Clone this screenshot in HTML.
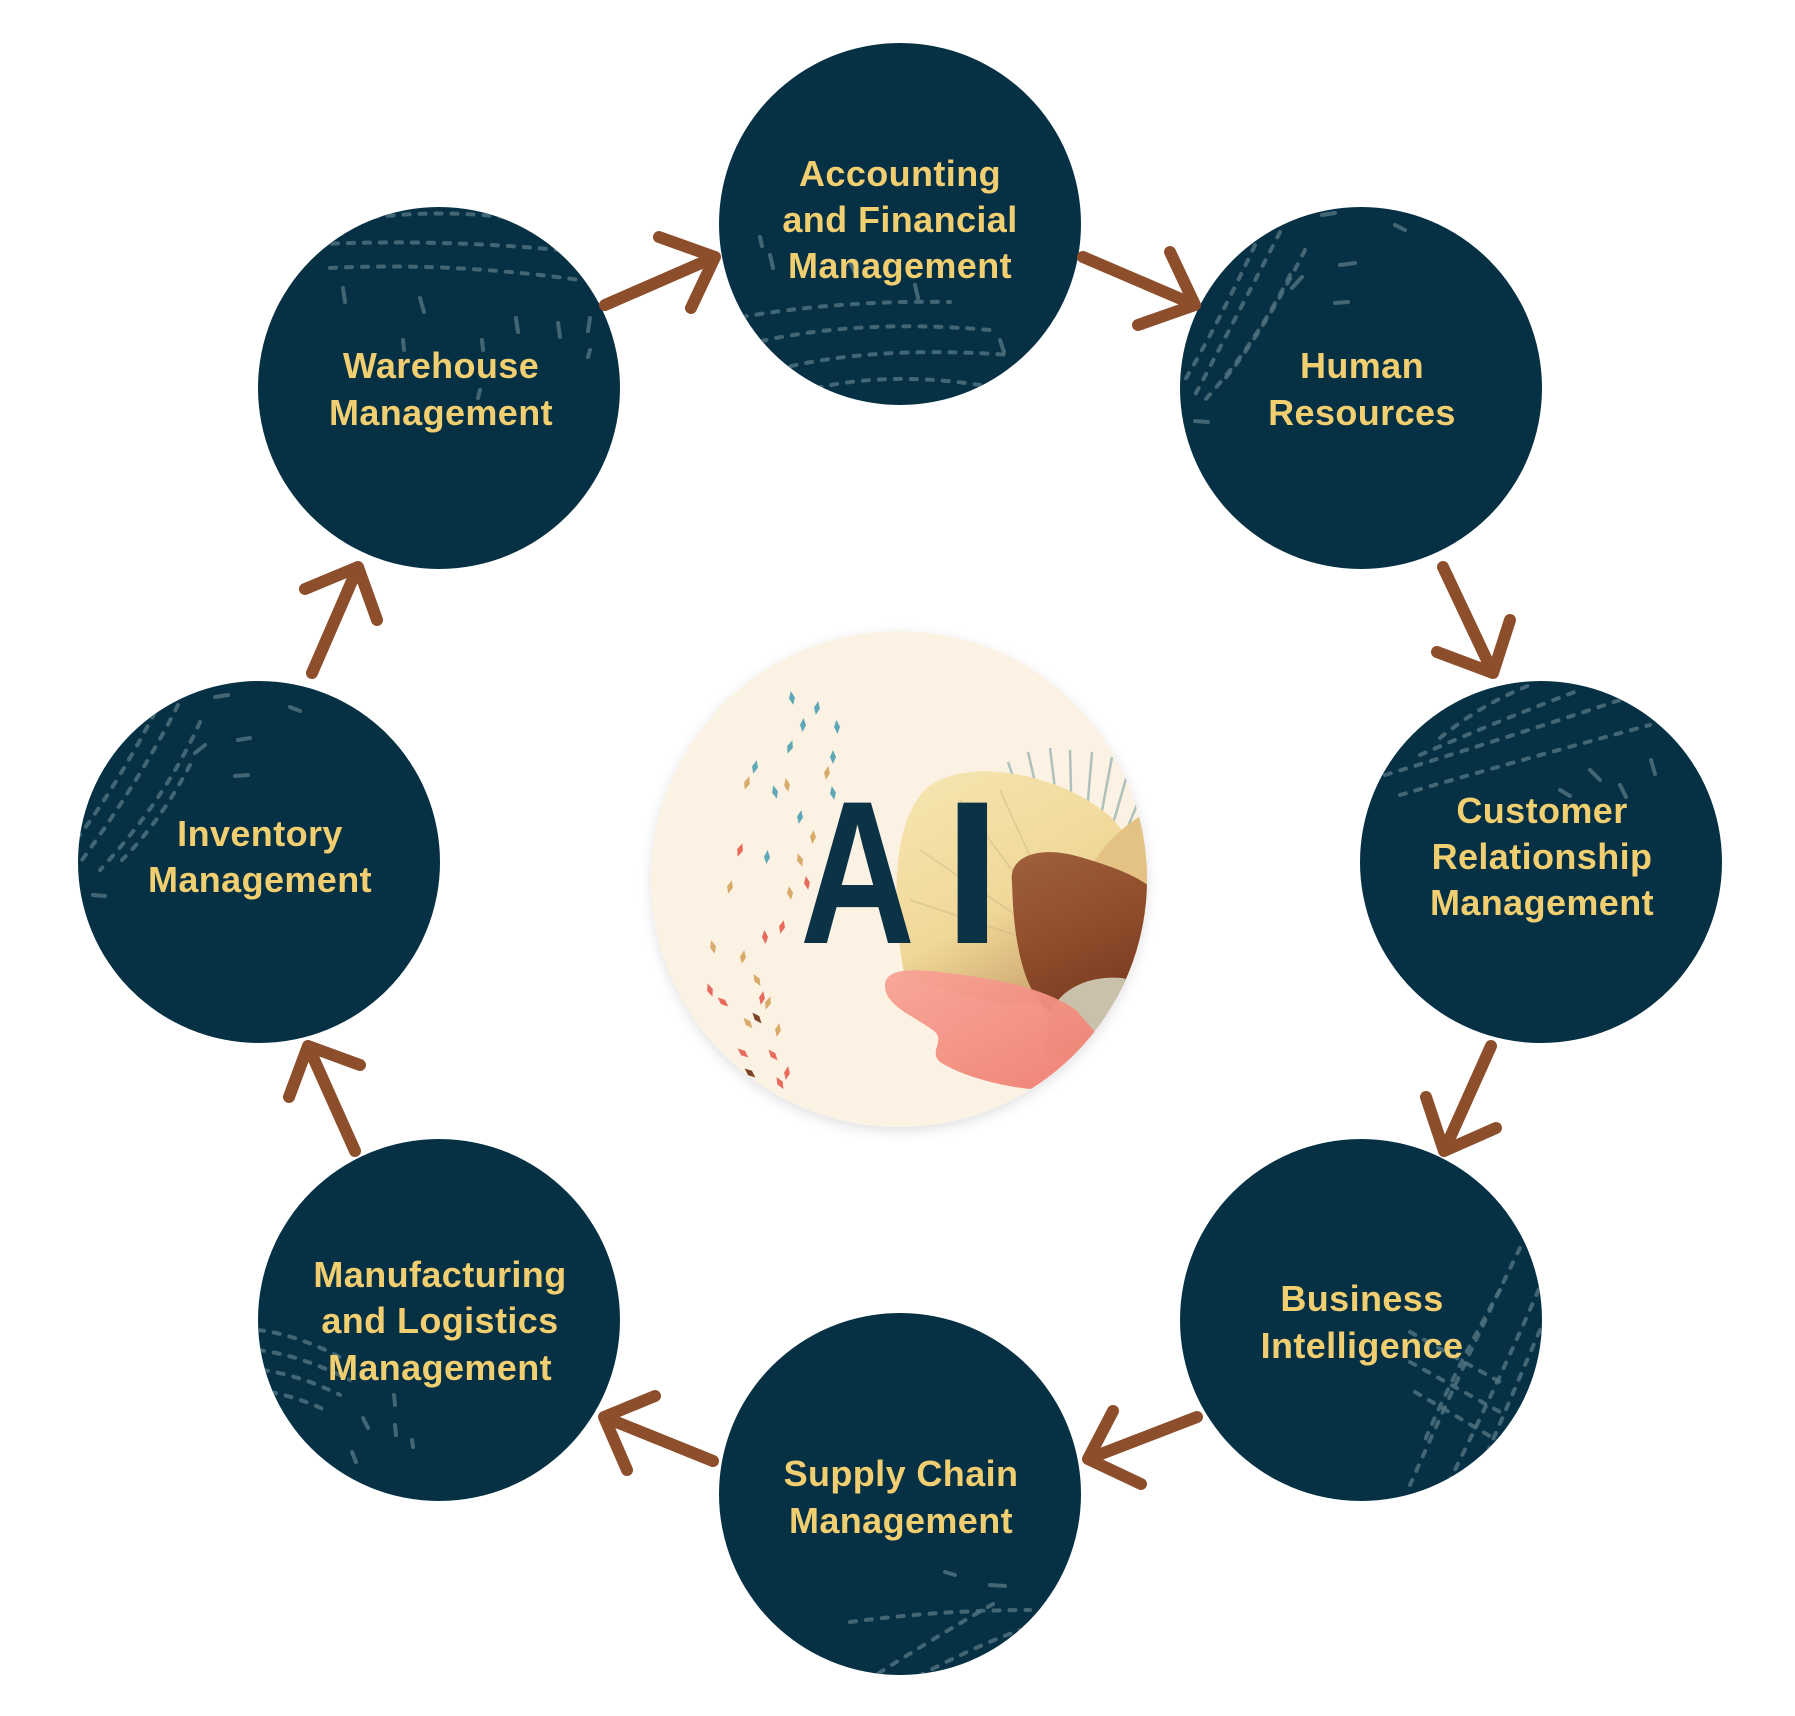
<!DOCTYPE html>
<html>
<head>
<meta charset="utf-8">
<style>
  html,body{margin:0;padding:0;background:#ffffff;}
  body{width:1795px;height:1716px;overflow:hidden;}
  svg{display:block;}
  .lbl{font-family:"Liberation Sans",Arial,sans-serif;font-weight:bold;font-size:36px;fill:#f1ce70;letter-spacing:0.4px;}
  .tx{fill:none;stroke:#4f707d;stroke-width:4;stroke-linecap:round;stroke-dasharray:6 10;opacity:0.85;}
  .sc{fill:none;stroke:#4f707d;stroke-width:4;stroke-linecap:round;opacity:0.85;}
  .arr{fill:none;stroke:#8d4e2b;stroke-width:12;stroke-linecap:round;stroke-linejoin:round;}
</style>
</head>
<body>
<svg width="1795" height="1716" viewBox="0 0 1795 1716" xmlns="http://www.w3.org/2000/svg">
  <defs>
    <clipPath id="cA"><circle cx="900" cy="224" r="181"/></clipPath>
    <clipPath id="cHR"><circle cx="1361" cy="388" r="181"/></clipPath>
    <clipPath id="cCRM"><circle cx="1541" cy="862" r="181"/></clipPath>
    <clipPath id="cBI"><circle cx="1361" cy="1320" r="181"/></clipPath>
    <clipPath id="cSC"><circle cx="900" cy="1494" r="181"/></clipPath>
    <clipPath id="cMF"><circle cx="439" cy="1320" r="181"/></clipPath>
    <clipPath id="cINV"><circle cx="259" cy="862" r="181"/></clipPath>
    <clipPath id="cWH"><circle cx="439" cy="388" r="181"/></clipPath>
    <clipPath id="cAI"><circle cx="899" cy="879" r="248"/></clipPath>
    <filter id="shadow" x="-20%" y="-20%" width="140%" height="140%">
      <feDropShadow dx="0" dy="4" stdDeviation="6" flood-color="#000" flood-opacity="0.12"/>
    </filter>
    <linearGradient id="gYellow" x1="0" y1="0" x2="0.6" y2="1">
      <stop offset="0" stop-color="#f6e6b2"/>
      <stop offset="0.6" stop-color="#f0d898"/>
      <stop offset="1" stop-color="#c9a06a"/>
    </linearGradient>
    <linearGradient id="gBrown" x1="0" y1="0" x2="0.4" y2="1">
      <stop offset="0" stop-color="#a0603c"/>
      <stop offset="0.6" stop-color="#8e4c2b"/>
      <stop offset="1" stop-color="#7a3b20"/>
    </linearGradient>
    <linearGradient id="gPink" x1="0" y1="0" x2="1" y2="1">
      <stop offset="0" stop-color="#f7a496"/>
      <stop offset="1" stop-color="#ef7d6f"/>
    </linearGradient>
    <path id="dm" d="M0,-7 L3,0 L0,7 L-3,0 Z"/>
  </defs>

  <!-- Center AI circle -->
  <g filter="url(#shadow)">
    <circle cx="899" cy="879" r="248" fill="#fbf2e4"/>
  </g>
  <g clip-path="url(#cAI)">
    <!-- rays -->
    <g stroke="#9fb8b6" stroke-width="2.5" opacity="0.85">
      <line x1="1075" y1="955" x2="1008" y2="762"/>
      <line x1="1075" y1="955" x2="1028" y2="752"/>
      <line x1="1075" y1="955" x2="1050" y2="748"/>
      <line x1="1075" y1="955" x2="1070" y2="750"/>
      <line x1="1075" y1="955" x2="1092" y2="752"/>
      <line x1="1075" y1="955" x2="1112" y2="757"/>
      <line x1="1075" y1="955" x2="1130" y2="765"/>
      <line x1="1075" y1="955" x2="1148" y2="778"/>
      <line x1="1075" y1="955" x2="1160" y2="795"/>
      <line x1="1075" y1="955" x2="985" y2="775"/>
      <line x1="1075" y1="955" x2="895" y2="940"/>
      <line x1="1075" y1="955" x2="905" y2="965"/>
    </g>
    <!-- yellow blob -->
    <path d="M 905 978 C 893 920, 888 822, 928 787 C 968 757, 1060 772, 1112 818 L 1155 870 L 1155 1000 L 1000 1005 Z" fill="url(#gYellow)"/>
    <g stroke="#c9b48a" stroke-width="1.5" opacity="0.5">
      <line x1="1075" y1="955" x2="960" y2="800"/>
      <line x1="1075" y1="955" x2="920" y2="850"/>
      <line x1="1075" y1="955" x2="910" y2="900"/>
      <line x1="1075" y1="955" x2="1000" y2="790"/>
    </g>
    <!-- gold on right -->
    <path d="M 1095 860 C 1115 830, 1140 815, 1160 805 L 1160 975 L 1100 960 Z" fill="#e4c284"/>
    <!-- brown blob -->
    <path d="M 1012 882 C 1008 856, 1040 845, 1080 857 C 1118 868, 1150 880, 1162 900 L 1162 965 C 1122 990, 1082 1000, 1056 1016 C 1030 1002, 1014 962, 1012 882 Z" fill="url(#gBrown)"/>
    <!-- gray stone -->
    <path d="M 1048 1018 C 1058 988, 1090 975, 1122 978 L 1160 988 L 1140 1065 L 1045 1055 Z" fill="#c9c1aa"/>
    <!-- pink blob -->
    <path d="M 885 987 C 884 970, 905 968, 940 972 C 990 978, 1042 986, 1076 1010 L 1102 1040 C 1082 1070, 1052 1086, 1030 1089 C 1000 1086, 962 1076, 940 1062 C 928 1051, 946 1041, 934 1031 C 914 1016, 886 1006, 885 987 Z" fill="url(#gPink)" opacity="0.95"/>
    <!-- confetti teal -->
    <g fill="#5ea7b7">
      <use href="#dm" transform="translate(792 698) rotate(-10)"/>
      <use href="#dm" transform="translate(817 708) rotate(10)"/>
      <use href="#dm" transform="translate(803 725) rotate(5)"/>
      <use href="#dm" transform="translate(837 727) rotate(-5)"/>
      <use href="#dm" transform="translate(790 747) rotate(20)"/>
      <use href="#dm" transform="translate(833 757) rotate(0)"/>
      <use href="#dm" transform="translate(755 767) rotate(15)"/>
      <use href="#dm" transform="translate(775 792) rotate(-15)"/>
      <use href="#dm" transform="translate(800 817) rotate(10)"/>
      <use href="#dm" transform="translate(767 857) rotate(5)"/>
      <use href="#dm" transform="translate(833 793) rotate(-10)"/>
    </g>
    <g fill="#d9aa6a">
      <use href="#dm" transform="translate(827 773) rotate(10)"/>
      <use href="#dm" transform="translate(787 785) rotate(-10)"/>
      <use href="#dm" transform="translate(747 783) rotate(20)"/>
      <use href="#dm" transform="translate(813 837) rotate(5)"/>
      <use href="#dm" transform="translate(800 860) rotate(-20)"/>
      <use href="#dm" transform="translate(730 887) rotate(15)"/>
      <use href="#dm" transform="translate(790 893) rotate(-10)"/>
      <use href="#dm" transform="translate(713 947) rotate(-15)"/>
      <use href="#dm" transform="translate(743 957) rotate(10)"/>
      <use href="#dm" transform="translate(757 980) rotate(-30)"/>
      <use href="#dm" transform="translate(768 1003) rotate(20)"/>
      <use href="#dm" transform="translate(748 1023) rotate(-40)"/>
      <use href="#dm" transform="translate(778 1030) rotate(10)"/>
    </g>
    <g fill="#e86a5c">
      <use href="#dm" transform="translate(740 850) rotate(20)"/>
      <use href="#dm" transform="translate(807 883) rotate(-10)"/>
      <use href="#dm" transform="translate(782 927) rotate(15)"/>
      <use href="#dm" transform="translate(765 937) rotate(-5)"/>
      <use href="#dm" transform="translate(710 990) rotate(-20)"/>
      <use href="#dm" transform="translate(723 1002) rotate(-50)"/>
      <use href="#dm" transform="translate(762 998) rotate(10)"/>
      <use href="#dm" transform="translate(743 1053) rotate(-50)"/>
      <use href="#dm" transform="translate(773 1055) rotate(-40)"/>
      <use href="#dm" transform="translate(787 1073) rotate(10)"/>
      <use href="#dm" transform="translate(780 1083) rotate(-30)"/>
    </g>
    <g fill="#7a4526">
      <use href="#dm" transform="translate(750 1073) rotate(-50)"/>
      <use href="#dm" transform="translate(757 1018) rotate(-40)"/>
    </g>
    <!-- AI text -->
    <text transform="translate(800 943) scale(0.78 1)" x="0" y="0" font-family="Liberation Sans, Arial, sans-serif" font-weight="bold" font-size="204" fill="#0b3345">A</text>
    <text x="944" y="943" font-family="Liberation Sans, Arial, sans-serif" font-weight="bold" font-size="204" fill="#0b3345">I</text>
  </g>

  <!-- Nodes -->
  <g fill="#063145">
    <circle cx="900" cy="224" r="181"/>
    <circle cx="1361" cy="388" r="181"/>
    <circle cx="1541" cy="862" r="181"/>
    <circle cx="1361" cy="1320" r="181"/>
    <circle cx="900" cy="1494" r="181"/>
    <circle cx="439" cy="1320" r="181"/>
    <circle cx="259" cy="862" r="181"/>
    <circle cx="439" cy="388" r="181"/>
  </g>

  <!-- Textures -->
  <g clip-path="url(#cA)">
    <path class="tx" d="M 725 320 Q 830 300 950 302"/>
    <path class="tx" d="M 745 345 Q 850 318 990 330"/>
    <path class="tx" d="M 775 370 Q 870 345 1010 355"/>
    <path class="tx" d="M 800 392 Q 880 370 980 385"/>
    <path class="sc" d="M 770 255 L 773 268 M 760 237 L 762 246 M 850 262 L 856 275 M 915 285 L 918 298 M 1000 340 L 1004 352"/>
  </g>
  <g clip-path="url(#cWH)">
    <path class="tx" d="M 340 222 Q 440 205 540 222"/>
    <path class="tx" d="M 300 245 Q 430 238 560 250"/>
    <path class="tx" d="M 330 268 Q 450 262 580 280"/>
    <path class="sc" d="M 343 288 L 345 302 M 420 298 L 424 312 M 516 318 L 518 332 M 558 323 L 560 337 M 403 340 L 404 350 M 482 340 L 483 350 M 590 318 L 588 331 M 590 350 L 588 357 M 480 390 L 478 398"/>
  </g>
  <g clip-path="url(#cHR)">
    <path class="tx" d="M 1280 232 Q 1240 310 1195 395"/>
    <path class="tx" d="M 1255 245 Q 1220 320 1185 380"/>
    <path class="tx" d="M 1305 250 Q 1265 330 1220 385"/>
    <path class="tx" d="M 1290 275 Q 1255 345 1205 400"/>
    <path class="sc" d="M 1322 215 L 1335 213 M 1395 225 L 1405 230 M 1340 265 L 1355 263 M 1335 303 L 1348 302 M 1292 288 L 1302 277 M 1195 421 L 1208 422"/>
  </g>
  <g clip-path="url(#cCRM)">
    <path class="tx" d="M 1385 775 Q 1500 740 1620 700"/>
    <path class="tx" d="M 1400 795 Q 1520 760 1650 725"/>
    <path class="tx" d="M 1420 755 Q 1500 720 1580 690"/>
    <path class="tx" d="M 1440 738 Q 1480 705 1530 685"/>
    <path class="sc" d="M 1651 760 L 1655 774 M 1620 785 L 1626 797 M 1590 770 L 1600 780 M 1560 790 L 1570 796"/>
  </g>
  <g clip-path="url(#cINV)">
    <path class="tx" d="M 178 705 Q 140 780 82 860"/>
    <path class="tx" d="M 155 712 Q 120 780 80 835"/>
    <path class="tx" d="M 200 722 Q 165 800 100 870"/>
    <path class="tx" d="M 190 765 Q 160 822 122 860"/>
    <path class="sc" d="M 215 697 L 228 695 M 290 707 L 300 711 M 238 740 L 250 738 M 235 776 L 248 775 M 93 895 L 105 896 M 195 753 L 205 745"/>
  </g>
  <g clip-path="url(#cBI)">
    <path class="tx" d="M 1520 1248 Q 1470 1350 1410 1485"/>
    <path class="tx" d="M 1545 1275 Q 1500 1380 1445 1490"/>
    <path class="tx" d="M 1500 1290 Q 1455 1370 1425 1440"/>
    <path class="tx" d="M 1540 1330 Q 1510 1400 1480 1470"/>
    <path class="tx" d="M 1410 1332 L 1500 1382"/>
    <path class="tx" d="M 1410 1362 L 1500 1412"/>
    <path class="tx" d="M 1415 1392 L 1500 1442"/>
  </g>
  <g clip-path="url(#cMF)">
    <path class="tx" d="M 258 1330 Q 300 1335 345 1360"/>
    <path class="tx" d="M 258 1350 Q 300 1355 350 1380"/>
    <path class="tx" d="M 262 1370 Q 300 1375 340 1395"/>
    <path class="tx" d="M 270 1392 Q 300 1398 325 1410"/>
    <path class="sc" d="M 394 1395 L 395 1405 M 363 1418 L 368 1428 M 395 1425 L 396 1435 M 412 1440 L 413 1447 M 352 1452 L 356 1462"/>
  </g>
  <g clip-path="url(#cSC)">
    <path class="tx" d="M 850 1622 Q 940 1610 1030 1610"/>
    <path class="tx" d="M 865 1682 Q 930 1640 1000 1600"/>
    <path class="tx" d="M 890 1692 Q 960 1652 1020 1630"/>
    <path class="tx" d="M 940 1684 Q 990 1654 1035 1642"/>
    <path class="sc" d="M 945 1572 L 955 1575 M 990 1585 L 1005 1586"/>
  </g>

  <!-- Labels -->
  <g class="lbl" text-anchor="middle">
    <text x="900" y="186">Accounting</text>
    <text x="900" y="232">and Financial</text>
    <text x="900" y="278">Management</text>

    <text x="1362" y="378">Human</text>
    <text x="1362" y="425">Resources</text>

    <text x="1542" y="823">Customer</text>
    <text x="1542" y="869">Relationship</text>
    <text x="1542" y="915">Management</text>

    <text x="1362" y="1311">Business</text>
    <text x="1362" y="1358">Intelligence</text>

    <text x="901" y="1486">Supply Chain</text>
    <text x="901" y="1533">Management</text>

    <text x="440" y="1287">Manufacturing</text>
    <text x="440" y="1333">and Logistics</text>
    <text x="440" y="1380">Management</text>

    <text x="260" y="846">Inventory</text>
    <text x="260" y="892">Management</text>

    <text x="441" y="378">Warehouse</text>
    <text x="441" y="425">Management</text>
  </g>

  <!-- Arrows -->
  <g class="arr">
    <!-- Warehouse -> Accounting -->
    <path d="M 605 305 L 715 257 M 659 237 L 715 257 L 691 308"/>
    <!-- Accounting -> HR -->
    <path d="M 1083 257 L 1195 305 M 1170 252 L 1195 305 L 1138 325"/>
    <!-- HR -> CRM -->
    <path d="M 1443 567 L 1493 673 M 1437 652 L 1493 673 L 1510 620"/>
    <!-- CRM -> BI -->
    <path d="M 1491 1046 L 1444 1151 M 1426 1097 L 1444 1151 L 1496 1128"/>
    <!-- BI -> SC -->
    <path d="M 1197 1417 L 1088 1459 M 1113 1411 L 1088 1459 L 1141 1484"/>
    <!-- SC -> MF -->
    <path d="M 713 1461 L 604 1417 M 655 1396 L 604 1417 L 627 1470"/>
    <!-- MF -> Inventory -->
    <path d="M 355 1151 L 308 1046 M 289 1097 L 308 1046 L 360 1065"/>
    <!-- Inventory -> Warehouse -->
    <path d="M 312 673 L 358 567 M 305 589 L 358 567 L 377 620"/>
  </g>
</svg>
</body>
</html>
